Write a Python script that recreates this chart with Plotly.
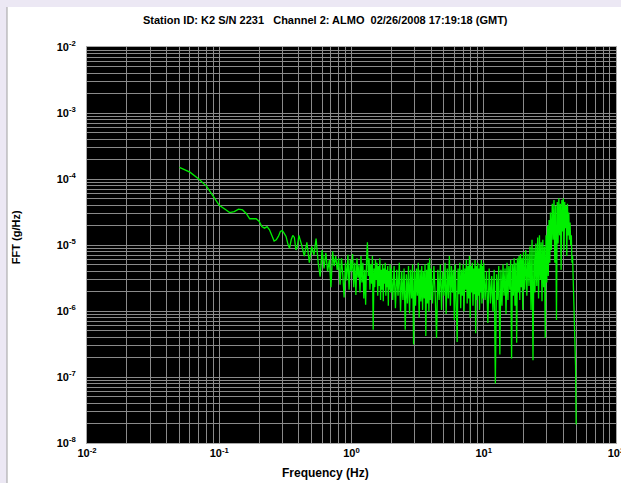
import plotly.graph_objects as go

# ---- data ----
freq_low = [0.05, 0.06, 0.07, 0.08, 0.09, 0.10, 0.11, 0.12, 0.13, 0.14, 0.15, 0.16,
            0.17, 0.18, 0.19, 0.20, 0.21, 0.22, 0.23, 0.24, 0.25, 0.26, 0.27, 0.28,
            0.29, 0.30, 0.31, 0.32, 0.33, 0.34, 0.35, 0.36, 0.37, 0.38, 0.39, 0.40]
fft_low = [1.5e-4, 1.27e-4, 1.0e-4, 7.8e-5, 5.5e-5, 4.0e-5, 3.5e-5, 3.1e-5, 3.2e-5, 3.5e-5, 3.4e-5, 3.0e-5,
           2.5e-5, 2.5e-5, 2.5e-5, 2.3e-5, 1.9e-5, 1.8e-5, 1.9e-5, 1.7e-5, 1.4e-5, 1.15e-5, 1.2e-5, 1.35e-5,
           1.6e-5, 1.65e-5, 1.5e-5, 1.35e-5, 1.05e-5, 8.9e-6, 1.2e-5, 1.4e-5, 1.3e-5, 8.4e-6, 9.5e-6, 1.4e-5]

freq_b = [0.42, 0.44, 0.46, 0.48, 0.50, 0.52, 0.54, 0.56, 0.58, 0.60,
          0.62, 0.64, 0.66, 0.68, 0.70, 0.72, 0.74, 0.76, 0.78, 0.80]
fft_b = [1.0e-5, 6.8e-6, 1.1e-5, 5.4e-6, 9.5e-6, 7.1e-6, 1.25e-5, 5.4e-6, 3.3e-6, 8.4e-6,
         4.4e-6, 7.6e-6, 4.0e-6, 5.9e-6, 2.3e-6, 8.0e-6, 4.8e-6, 6.8e-6, 4.2e-6, 6.3e-6]

freq_c = [0.82, 0.84, 0.86, 0.88, 0.90, 0.92, 0.94, 0.96, 0.98, 1.00,
          1.02, 1.04, 1.06, 1.08, 1.10, 1.12, 1.14, 1.16, 1.18, 1.20,
          1.22, 1.24, 1.26, 1.28, 1.30, 1.32, 1.34, 1.36, 1.38, 1.40,
          1.42, 1.44, 1.46, 1.48, 1.50, 1.52, 1.54, 1.56, 1.58, 1.60,
          1.62, 1.64, 1.66, 1.68, 1.70, 1.72, 1.74, 1.76, 1.78, 1.80,
          1.82, 1.84, 1.86, 1.88, 1.90, 1.92, 1.94, 1.96, 1.98, 2.00]
fft_c = [2.5e-6, 6.3e-6, 3.5e-6, 1.6e-6, 5.4e-6, 2.9e-6, 7.1e-6, 2.1e-6, 5.9e-6, 4.0e-6,
         7.3e-6, 2.3e-6, 5.4e-6, 1.75e-6, 6.3e-6, 3.2e-6, 5.0e-6, 1.9e-6, 6.8e-6, 2.7e-6,
         5.4e-6, 1.55e-6, 4.2e-6, 1.24e-6, 5.9e-6, 1.1e-5, 3.4e-6, 6.3e-6, 2.1e-6, 5.1e-6,
         2.6e-6, 6.8e-6, 5.2e-7, 4.4e-6, 2.3e-6, 5.9e-6, 2.95e-6, 5.4e-6, 1.7e-6, 4.8e-6,
         2.4e-6, 6.3e-6, 1.47e-6, 4.2e-6, 2.1e-6, 5.1e-6, 1.4e-6, 4.4e-6, 2.6e-6, 5.4e-6,
         1.7e-6, 4.2e-6, 2.3e-6, 4.8e-6, 1.2e-6, 4.0e-6, 2.1e-6, 5.1e-6, 1.9e-6, 4.4e-6]

freq_d = [2.05, 2.10, 2.15, 2.20, 2.25, 2.30, 2.35, 2.40, 2.45, 2.50,
          2.55, 2.60, 2.65, 2.70, 2.75, 2.80, 2.85, 2.90, 2.95, 3.00,
          3.05, 3.10, 3.15, 3.20, 3.25, 3.30, 3.35, 3.40, 3.45, 3.50,
          3.55, 3.60, 3.65, 3.70, 3.75, 3.80, 3.85, 3.90, 3.95, 4.00]
fft_d = [1.47e-6, 4.8e-6, 1.1e-6, 4.2e-6, 1.7e-6, 5.4e-6, 9.8e-7, 4.0e-6, 1.47e-6, 4.4e-6,
         5.2e-7, 3.6e-6, 1.3e-6, 4.8e-6, 9.2e-7, 4.2e-6, 1.55e-6, 5.1e-6, 3.1e-7, 4.0e-6,
         1.2e-6, 4.4e-6, 1.7e-6, 5.4e-6, 7.9e-7, 4.2e-6, 1.4e-6, 4.8e-6, 1.04e-6, 4.0e-6,
         1.55e-6, 5.1e-6, 4.2e-7, 4.2e-6, 1.3e-6, 5.4e-6, 9.8e-7, 6.3e-6, 1.47e-6, 4.4e-6]

freq_e = [4.1, 4.2, 4.3, 4.4, 4.5, 4.6, 4.7, 4.8, 4.9, 5.0,
          5.1, 5.2, 5.3, 5.4, 5.5, 5.6, 5.7, 5.8, 5.9, 6.0,
          6.1, 6.2, 6.3, 6.4, 6.5, 6.6, 6.7, 6.8, 6.9, 7.0,
          7.1, 7.2, 7.3, 7.4, 7.5, 7.6, 7.7, 7.8, 7.9, 8.0,
          8.1, 8.2, 8.3, 8.4, 8.5, 8.6, 8.7, 8.8, 8.9, 9.0,
          9.1, 9.2, 9.3, 9.4, 9.5, 9.6, 9.7, 9.8, 9.9, 10.0]
fft_e = [1.3e-6, 4.8e-6, 1.7e-6, 3.9e-7, 4.2e-6, 1.47e-6, 5.1e-6, 1.04e-6, 4.0e-6, 1.7e-6,
         5.4e-6, 9.0e-7, 4.4e-6, 1.55e-6, 6.8e-6, 1.2e-6, 4.8e-6, 1.9e-6, 4.2e-6, 7.3e-7,
         5.1e-6, 1.47e-6, 3.4e-7, 4.4e-6, 1.8e-6, 5.4e-6, 1.1e-6, 4.2e-6, 1.7e-6, 5.1e-6,
         9.8e-7, 4.4e-6, 2.1e-6, 5.9e-6, 1.3e-6, 4.8e-6, 1.55e-6, 6.8e-6, 7.9e-7, 4.8e-6,
         1.9e-6, 5.4e-6, 1.2e-6, 4.4e-6, 1.8e-6, 5.9e-6, 4.6e-7, 4.8e-6, 1.47e-6, 5.4e-6,
         1.7e-6, 4.4e-6, 1.04e-6, 5.1e-6, 1.9e-6, 5.9e-6, 1.3e-6, 4.8e-6, 1.55e-6, 5.4e-6]

freq_f = [10.25, 10.5, 10.75, 11.0, 11.25, 11.5, 11.75, 12.0, 12.25, 12.5,
          12.75, 13.0, 13.25, 13.5, 13.75, 14.0, 14.25, 14.5, 14.75, 15.0,
          15.25, 15.5, 15.75, 16.0, 16.25, 16.5, 16.75, 17.0, 17.25, 17.5,
          17.75, 18.0, 18.25, 18.5, 18.75, 19.0, 19.25, 19.5, 19.75, 20.0]
fft_f = [1.47e-6, 4.0e-6, 6.6e-7, 4.4e-6, 1.3e-6, 3.4e-6, 9.8e-7, 4.2e-6, 8.0e-8, 3.6e-6,
         1.47e-6, 4.8e-6, 2.2e-7, 4.2e-6, 1.2e-6, 5.1e-6, 1.7e-6, 4.4e-6, 9.0e-7, 5.4e-6,
         1.47e-6, 4.8e-6, 2.1e-6, 5.9e-6, 1.9e-7, 5.1e-6, 1.7e-6, 6.3e-6, 1.2e-6, 5.4e-6,
         3.3e-7, 6.3e-6, 1.9e-6, 6.8e-6, 1.47e-6, 7.3e-6, 2.3e-6, 6.3e-6, 1.04e-6, 7.8e-6]

freq_g = [20.4, 20.8, 21.2, 21.6, 22.0, 22.4, 22.8, 23.2, 23.6, 24.0,
          24.4, 24.8, 25.2, 25.6, 26.0, 26.4, 26.8, 27.2, 27.6, 28.0,
          28.4, 28.8, 29.2, 29.6, 30.0, 30.4, 30.8, 31.2, 31.6, 32.0]
fft_g = [2.1e-6, 8.4e-6, 1.7e-6, 7.3e-6, 2.4e-6, 9.5e-6, 1.04e-6, 1.2e-5, 1.8e-7, 8.9e-6,
         1.9e-6, 1.05e-5, 2.4e-6, 1.3e-5, 1.55e-6, 1.4e-5, 2.95e-6, 1.1e-5, 1.4e-6, 1.2e-5,
         2.3e-6, 9.5e-6, 3.9e-7, 1.4e-5, 2.7e-6, 1.95e-5, 3.4e-6, 2.4e-5, 5.4e-6, 3.1e-5]

freq_h = [32.5, 33.0, 33.5, 34.0, 34.5, 35.0, 35.5, 36.0, 36.5, 37.0,
          37.5, 38.0, 38.5, 39.0, 39.5, 40.0, 40.5, 41.0, 41.5, 42.0,
          42.5, 43.0, 43.5, 44.0, 44.5, 45.0, 45.5, 46.0, 46.5, 47.0,
          47.5, 48.0, 48.5, 49.0, 49.5, 50.0]
fft_h = [8.4e-6, 4.2e-5, 1.2e-5, 4.8e-5, 5.4e-6, 3.9e-5, 7.3e-7, 4.5e-5, 1.05e-5, 5.1e-5,
         1.4e-5, 4.2e-5, 4.2e-6, 4.8e-5, 1.6e-5, 5.1e-5, 8.4e-6, 4.5e-5, 1.8e-5, 3.9e-5,
         6.8e-6, 4.2e-5, 1.4e-5, 3.1e-5, 1.2e-5, 2.2e-5, 1.0e-5, 1.4e-5, 5.4e-6, 6.8e-6,
         2.7e-6, 1.9e-6, 7.9e-7, 3.6e-7, 1.5e-7, 1.9e-8]

frequency = freq_low + freq_b + freq_c + freq_d + freq_e + freq_f + freq_g + freq_h
fft_value = fft_low + fft_b + fft_c + fft_d + fft_e + fft_f + fft_g + fft_h

# tick labels
x_tickvals = [0.01, 0.1, 1, 10, 100]
x_ticktext = ["10<sup>-2</sup>", "10<sup>-1</sup>", "10<sup>0</sup>", "10<sup>1</sup>", "10<sup>2</sup>"]
y_tickvals = [1e-8, 1e-7, 1e-6, 1e-5, 1e-4, 1e-3, 1e-2]
y_ticktext = ["10<sup>-8</sup>", "10<sup>-7</sup>", "10<sup>-6</sup>", "10<sup>-5</sup>",
              "10<sup>-4</sup>", "10<sup>-3</sup>", "10<sup>-2</sup>"]

title_text = "Station ID: K2 S/N 2231   Channel 2: ALMO  02/26/2008 17:19:18 (GMT)"
x_title = "Frequency (Hz)"
y_title = "FFT (g/Hz)"

FONT = "Liberation Sans, Arial, sans-serif"
GRID = "#8a8a8a"

fig = go.Figure()
fig.add_trace(go.Scatter(
    x=frequency, y=fft_value, mode="lines",
    line=dict(color="#00f000", width=1.3),
    showlegend=False, hoverinfo="skip",
))

axis_common = dict(
    type="log", tickmode="array", automargin=False,
    showgrid=True, gridcolor=GRID, gridwidth=1,
    minor=dict(dtick="D1", showgrid=True, gridcolor=GRID, gridwidth=1, ticks=""),
    showline=True, linecolor="#a8a8a8", linewidth=1, mirror=True,
    zeroline=False, ticks="", ticklabeloverflow="allow",
    tickfont=dict(family=FONT, size=11, color="#000000", weight="bold"),
)

fig.update_layout(
    width=621, height=483,
    margin=dict(l=87, r=5, t=47, b=40, autoexpand=False),
    paper_bgcolor="#ffffff",
    plot_bgcolor="#000000",
    xaxis=dict(range=[-2, 2.0005], tickvals=x_tickvals, ticktext=x_ticktext,
               ticklabelstandoff=0, **axis_common),
    yaxis=dict(range=[-8, -2], tickvals=y_tickvals, ticktext=y_ticktext,
               ticklabelstandoff=8, **axis_common),
    shapes=[
        dict(type="rect", xref="paper", yref="paper", x0=-0.2, x1=1.1, y0=1.101, y1=1.2,
             fillcolor="#ece8f4", line=dict(width=0), layer="below"),
        dict(type="rect", xref="paper", yref="paper", x0=-0.2, x1=-0.1512, y0=-0.2, y1=1.2,
             fillcolor="#ece8f4", line=dict(width=0), layer="below"),
        dict(type="line", xref="paper", yref="paper", x0=-0.1512, x1=-0.1512, y0=-0.2, y1=1.101,
             line=dict(color="#a0a0a0", width=1), layer="below"),
    ],
    annotations=[
        dict(text=title_text, xref="paper", yref="paper", x=0.45, y=1.068,
             showarrow=False, xanchor="center", yanchor="middle",
             font=dict(family=FONT, size=11, color="#000000", weight="bold")),
        dict(text=x_title, xref="paper", yref="paper", x=0.45, y=-0.0758,
             showarrow=False, xanchor="center", yanchor="middle",
             font=dict(family=FONT, size=12, color="#000000", weight="bold")),
        dict(text=y_title, xref="paper", yref="paper", x=-0.134, y=0.52, textangle=-90,
             showarrow=False, xanchor="center", yanchor="middle",
             font=dict(family=FONT, size=11, color="#000000", weight="bold")),
    ],
)

fig.write_html("out.html")
